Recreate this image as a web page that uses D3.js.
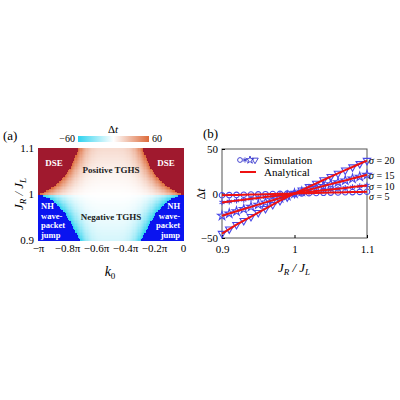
<!DOCTYPE html>
<html><head><meta charset="utf-8">
<script src="https://cdn.jsdelivr.net/npm/d3@7"></script>
<style>body{margin:0;background:#fff}svg{font-family:"Liberation Serif",serif}</style>
</head><body><div id="chart"></div>
<script>
// panel (a): boundary of the DSE / NH regions (left edge, in units of pi) per J_R/J_L row
const upperJ = [1.0, 1.005, 1.01, 1.02, 1.04, 1.06, 1.08, 1.1];
const upperEdge = [-1.0, -0.96, -0.93, -0.88, -0.82, -0.775, -0.745, -0.72];
const lowerJ = [0.9, 0.92, 0.94, 0.96, 0.98, 0.99, 0.995, 1.0];
const lowerEdge = [-0.71, -0.74, -0.775, -0.815, -0.87, -0.91, -0.94, -0.98];
// Δt at the centre (k0 = -0.5π) of each row
const centerJ = [0.9, 0.95, 1.0, 1.05, 1.1];
const centerDt = [-12, -5, 0, 5, 14];
const edgeDt = 60;

// panel (b)
const ratio = [0.9,0.91,0.92,0.93,0.94,0.95,0.96,0.97,0.98,0.99,1,1.01,1.02,1.03,1.04,1.05,1.06,1.07,1.08,1.09,1.1];
const sigmas = [5, 10, 15, 20];
const dt5 = [-2,-1.8,-1.6,-1.4,-1.2,-1,-0.8,-0.6,-0.4,-0.2,0,0.2,0.4,0.6,0.8,1,1.2,1.4,1.6,1.8,2];
const dt10 = [-10,-9,-8,-7,-6,-5,-4,-3,-2,-1,0,0.9,1.8,2.7,3.6,4.5,5.4,6.3,7.2,8.1,9];
const dt15 = [-25,-22.5,-20,-17.5,-15,-12.5,-10,-7.5,-5,-2.5,0,2.1,4.2,6.3,8.4,10.5,12.6,14.7,16.8,18.9,21];
const dt20 = [-45,-40,-35,-30.5,-26,-21.5,-17,-12.5,-8,-4,0,3.8,7.6,11.4,15.2,19,22.6,26.2,29.8,33.4,37];
const seriesB = [dt5, dt10, dt15, dt20];
const markers = [d3.symbolCircle, d3.symbolAsterisk, d3.symbolStar, d3.symbolTriangle];

const svg = d3.select("#chart").append("svg").attr("width", 400).attr("height", 400);

// ---------- panel (a)
const xa = d3.scaleLinear().domain([-1, 0]).range([38, 183]);
const ya = d3.scaleLinear().domain([0.9, 1.1]).range([240, 148]);
const col = d3.scaleLinear().domain([-60, 0, 60]).range(["#2fd3ef", "#ffffff", "#dd6a3a"]);
const upEdge = d3.scaleLinear().domain(upperJ).range(upperEdge);
const loEdge = d3.scaleLinear().domain(lowerJ).range(lowerEdge);
const cenDt = d3.scaleLinear().domain(centerJ).range(centerDt);

const heat = svg.append("g").attr("shape-rendering", "crispEdges");
const nk = 120, nj = 60;
for (let j = 0; j < nj; j++) {
    const J0 = 0.9 + j * 0.2 / nj, J1 = J0 + 0.2 / nj, Jm = (J0 + J1) / 2;
    const up = Jm >= 1;
    const edge = up ? upEdge(Jm) : loEdge(Jm);
    const c = cenDt(Jm), sgn = up ? 1 : -1;
    for (let i = 0; i < nk; i++) {
        const k0 = -1 + i / nk, k1 = k0 + 1 / nk, km = (k0 + k1) / 2;
        const d = Math.abs(km + 0.5);          // distance from centre
        const half = Math.abs(edge + 0.5);
        let fill;
        if (d > half) fill = up ? "#a0192e" : "#0a14f0";
        else {
            const t = Math.pow(d / half, 4);
            fill = col(c + (sgn * edgeDt - c) * t);
        }
        heat.append("rect").attr("x", xa(k0)).attr("y", ya(J1))
            .attr("width", xa(k1) - xa(k0) + 1).attr("height", ya(J0) - ya(J1) + 1)
            .attr("fill", fill);
    }
}

svg.append("g").attr("transform", "translate(0,240)")
    .call(d3.axisBottom(xa).tickValues([-1, -0.8, -0.6, -0.4, -0.2, 0]).tickSize(0).tickPadding(4)
        .tickFormat(d => d === 0 ? "0" : d === -1 ? "−π" : "−" + (-d).toFixed(1) + "π"))
    .call(g => g.select(".domain").remove())
    .selectAll("text").attr("font-size", 11).attr("font-family", "Liberation Serif");
svg.append("g").attr("transform", "translate(38,0)")
    .call(d3.axisLeft(ya).tickValues([0.9, 1, 1.1]).tickSize(0).tickPadding(4).tickFormat(d3.format("")))
    .call(g => g.select(".domain").remove())
    .selectAll("text").attr("font-size", 11).attr("font-family", "Liberation Serif");

const lab = (x, y, t, o) => svg.append("text").attr("x", x).attr("y", y).attr("text-anchor", "middle")
    .attr("font-size", (o && o.size) || 9).attr("font-weight", "bold").attr("fill", (o && o.fill) || "#fff").text(t);
lab(54, 166, "DSE"); lab(166, 166, "DSE");
lab(111, 173, "Positive TGHS", {fill: "#222"});
lab(111, 220, "Negative TGHS", {fill: "#222"});
["NH", "wave-", "packet", "jump"].forEach((t, i) => {
    svg.append("text").attr("x", 41).attr("y", 209 + i * 9.5).attr("font-size", 8.5).attr("font-weight", "bold").attr("fill", "#fff").text(t);
    svg.append("text").attr("x", 180).attr("y", 209 + i * 9.5).attr("text-anchor", "end").attr("font-size", 8.5).attr("font-weight", "bold").attr("fill", "#fff").text(t);
});

svg.append("text").attr("x", 3).attr("y", 140).attr("font-size", 13).text("(a)");
svg.append("text").attr("transform", "translate(23,194) rotate(-90)").attr("text-anchor", "middle")
    .attr("font-size", 13).attr("font-style", "italic").html('J<tspan dy="3" font-size="9">R</tspan><tspan dy="-3"> / J</tspan><tspan dy="3" font-size="9">L</tspan>');
svg.append("text").attr("x", 110).attr("y", 276).attr("text-anchor", "middle").attr("font-size", 14)
    .attr("font-style", "italic").html('k<tspan dy="3" font-size="9" font-style="normal">0</tspan>');

// colorbar
const cb = d3.scaleLinear().domain([-60, 60]).range([78, 149]);
const grad = svg.append("defs").append("linearGradient").attr("id", "cbg");
[-60, 0, 60].forEach(v => grad.append("stop").attr("offset", (v + 60) / 120).attr("stop-color", col(v)));
svg.append("rect").attr("x", cb(-60)).attr("y", 136).attr("width", cb(60) - cb(-60)).attr("height", 6).attr("fill", "url(#cbg)");
svg.append("text").attr("x", cb(-60) - 3).attr("y", 142).attr("text-anchor", "end").attr("font-size", 10).text("−60");
svg.append("text").attr("x", cb(60) + 3).attr("y", 142).attr("font-size", 10).text("60");
svg.append("text").attr("x", 113).attr("y", 133).attr("text-anchor", "middle").attr("font-size", 11).html('Δ<tspan font-style="italic">t</tspan>');

// ---------- panel (b)
const xb = d3.scaleLinear().domain([0.9, 1.1]).range([222, 367]);
const yb = d3.scaleLinear().domain([-50, 50]).range([238, 149]);
svg.append("rect").attr("x", 222).attr("y", 149).attr("width", 145).attr("height", 89).attr("fill", "none").attr("stroke", "#555");
svg.append("g").attr("transform", "translate(0,238)")
    .call(d3.axisBottom(xb).tickValues([0.9, 1, 1.1]).tickSize(-3).tickPadding(7).tickFormat(d3.format("")))
    .call(g => g.select(".domain").remove())
    .selectAll("text").attr("font-size", 11).attr("font-family", "Liberation Serif");
svg.append("g").attr("transform", "translate(222,0)")
    .call(d3.axisLeft(yb).tickValues([-50, 0, 50]).tickSize(-3).tickPadding(4))
    .call(g => g.select(".domain").remove())
    .selectAll("text").attr("font-size", 11).attr("font-family", "Liberation Serif")
    .text(d => d < 0 ? "−" + (-d) : d);

const line = d3.line().x((d, i) => xb(ratio[i])).y(d => yb(d));
seriesB.forEach((s, k) => {
    const sym = d3.symbol().type(markers[k]).size(24);
    svg.append("g").selectAll("path").data(s).join("path")
        .attr("transform", (d, i) => `translate(${xb(ratio[i])},${yb(d)})` + (k === 3 ? " rotate(180)" : ""))
        .attr("d", sym).attr("fill", "none").attr("stroke", "#4848e8").attr("stroke-width", 1.1);
});
seriesB.forEach(s => svg.append("path").attr("d", line(s)).attr("fill", "none").attr("stroke", "#ee1111").attr("stroke-width", 2));

// legend
markers.forEach((m, i) =>
    svg.append("path").attr("transform", `translate(${240 + i * 5},160)` + (i === 3 ? " rotate(180)" : ""))
        .attr("d", d3.symbol().type(m).size(18)).attr("fill", "none").attr("stroke", "#3333cc").attr("stroke-width", 0.9));
svg.append("text").attr("x", 264).attr("y", 164).attr("font-size", 11).text("Simulation");
svg.append("line").attr("x1", 240).attr("x2", 256).attr("y1", 172).attr("y2", 172).attr("stroke", "#ee1111").attr("stroke-width", 2);
svg.append("text").attr("x", 264).attr("y", 176).attr("font-size", 11).text("Analytical");

seriesB.forEach((s, k) => {
    const yy = [196, 186, 175, 160][k];
    svg.append("text").attr("x", 369).attr("y", yy + 3.5).attr("font-size", 10)
        .html('<tspan font-style="italic">σ</tspan> = ' + sigmas[k]);
});

svg.append("text").attr("x", 203).attr("y", 138).attr("font-size", 13).text("(b)");
svg.append("text").attr("transform", "translate(205,194) rotate(-90)").attr("text-anchor", "middle")
    .attr("font-size", 12).html('Δ<tspan font-style="italic">t</tspan>');
svg.append("text").attr("x", 294).attr("y", 272).attr("text-anchor", "middle").attr("font-size", 13)
    .attr("font-style", "italic").html('J<tspan dy="3" font-size="9">R</tspan><tspan dy="-3"> / J</tspan><tspan dy="3" font-size="9">L</tspan>');
</script></body></html>
